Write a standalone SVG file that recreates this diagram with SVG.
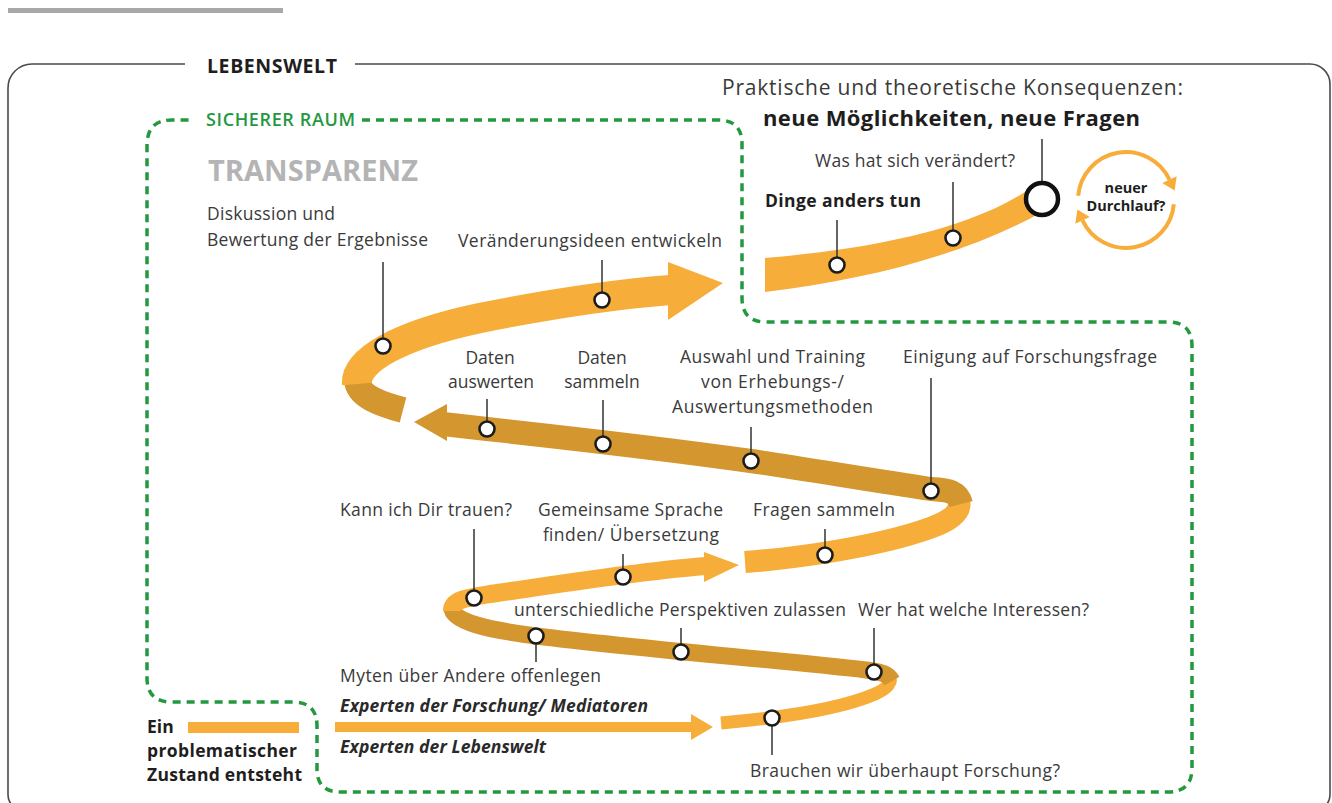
<svg xmlns="http://www.w3.org/2000/svg" width="1332" height="803" viewBox="0 0 1332 803" font-size="17.5">
<style>
text{font-family:"Open Sans","Liberation Sans",sans-serif;fill:#3a3a3a}
.b{font-weight:700;fill:#1e1e1e}
.bi{font-weight:700;font-style:italic;fill:#2a2a2a}
.c{text-anchor:middle}
.lead{stroke:#333;stroke-width:1.5;fill:none}
.dot{fill:#fff;stroke:#1c1c1c;stroke-width:2.6}
.lt{fill:none;stroke:#F6AD39;stroke-linecap:butt}
.dk{fill:none;stroke:#D4962F;stroke-linecap:butt}
.ltf{fill:#F6AD39}
.dkf{fill:#D4962F}
</style>
<rect x="8" y="8" width="275" height="5" fill="#a8a8a8"/>
<g id="lebenswelt">
<path d="M185 64 H32 A24 24 0 0 0 8 88 V795 A15 15 0 0 0 23 810 H1315 A15 15 0 0 0 1330 795 V84 A20 20 0 0 0 1310 64 H355" fill="none" stroke="#4a4a4a" stroke-width="1.6"/>
<text x="207" y="73" class="b" font-size="19.5" textLength="130">LEBENSWELT</text>
</g>
<g id="sicherer-raum">
<path d="M362 120 H718 Q742 120 742 144 V298 Q742 322 766 322 H1168 Q1192 322 1192 346 V768 Q1192 792 1168 792 H340 Q317 792 317 769 V726 Q317 702 293 702 H172 Q147 702 147 678 V145 Q147 120 172 120 H193" fill="none" stroke="#23983f" stroke-width="3.5" stroke-dasharray="8 6"/>
<text x="206" y="126" font-size="18" font-weight="600" style="fill:#23983f" textLength="149">SICHERER RAUM</text>
</g>
<text x="208" y="181" font-size="29" font-weight="700" style="fill:#b4b4b4" textLength="210">TRANSPARENZ</text>

<g id="ribbon">
<line x1="188" y1="727.5" x2="299" y2="727.5" class="lt" stroke-width="11"/>
<line x1="335" y1="727" x2="693" y2="727" class="lt" stroke-width="10"/>
<polygon points="691,714 713,727 691,740" class="ltf"/>
<path d="M721 723 C790 717 845 707 875 694 C888 688 893 682 889 676" class="lt" stroke-width="13"/>
<path d="M892 681 C887 672 878 672 866 670 C780 660 650 650 536 636 C490 630 452 622 452 608" class="dk" stroke-width="17"/>
<path d="M452 611 C452 600 465 598 490 594 C560 584 640 571 706 566" class="lt" stroke-width="18"/>
<polygon points="704,552 739,565 704,582" class="ltf"/>
<path d="M745 562 C800 558 880 546 930 528 C950 521 962 512 959 500" class="lt" stroke-width="22"/>
<path d="M961 504 C958 492 950 490 931 489 C870 480 800 468 751 461 C680 451 560 437 487 429 L443 424" class="dk" stroke-width="24"/>
<polygon points="447,404 414,422 447,441" class="dkf"/>
<path d="M403 410 C380 404 358 396 357 380" class="dk" stroke-width="26"/>
<path d="M357 384 C355 360 400 335 480 318 C560 302 620 294 670 290" class="lt" stroke-width="30"/>
<polygon points="668,262 723,283 668,320" class="ltf"/>
<path d="M765 258 C860 250 965 232 1028 190 L1042 212 C965 255 865 280 765 292 Z" class="ltf"/>
</g>

<g id="connectors">
<line x1="383" y1="262" x2="383" y2="339" class="lead"/>
<line x1="602" y1="260" x2="602" y2="293" class="lead"/>
<line x1="837" y1="220" x2="837" y2="258" class="lead"/>
<line x1="953" y1="182" x2="953" y2="231" class="lead"/>
<line x1="1042" y1="139" x2="1042" y2="183" class="lead"/>
<line x1="487" y1="399" x2="487" y2="422" class="lead"/>
<line x1="603" y1="400" x2="603" y2="437" class="lead"/>
<line x1="751" y1="427" x2="751" y2="454" class="lead"/>
<line x1="931" y1="378" x2="931" y2="484" class="lead"/>
<line x1="474" y1="529" x2="474" y2="591" class="lead"/>
<line x1="623" y1="554" x2="623" y2="570" class="lead"/>
<line x1="825" y1="529" x2="825" y2="548" class="lead"/>
<line x1="681" y1="628" x2="681" y2="645" class="lead"/>
<line x1="874" y1="628" x2="874" y2="665" class="lead"/>
<line x1="536" y1="643" x2="536" y2="662" class="lead"/>
<line x1="772" y1="725" x2="772" y2="755" class="lead"/>
</g>

<g id="n-start"><text x="147" y="733" class="b">Ein</text><text x="147" y="757" class="b" textLength="150">problematischer</text><text x="147" y="781" class="b" textLength="155">Zustand entsteht</text></g>
<g id="n-experten"><text x="340" y="712" class="bi" textLength="308">Experten der Forschung/ Mediatoren</text><text x="340" y="753" class="bi" textLength="206">Experten der Lebenswelt</text></g>
<g id="n-brauchen"><circle cx="772" cy="718" r="7.5" class="dot"/><text x="750" y="777" textLength="310">Brauchen wir überhaupt Forschung?</text></g>
<g id="n-wer"><circle cx="874" cy="672" r="7.5" class="dot"/><text x="858" y="616" textLength="231">Wer hat welche Interessen?</text></g>
<g id="n-perspektiven"><circle cx="681" cy="652" r="7.5" class="dot"/><text x="514" y="616" textLength="332">unterschiedliche Perspektiven zulassen</text></g>
<g id="n-myten"><circle cx="536" cy="636" r="7.5" class="dot"/><text x="340" y="682" textLength="261">Myten über Andere offenlegen</text></g>
<g id="n-trauen"><circle cx="474" cy="598" r="7.5" class="dot"/><text x="340" y="516" textLength="172">Kann ich Dir trauen?</text></g>
<g id="n-sprache"><circle cx="623" cy="577" r="7.5" class="dot"/><text x="538" y="516" textLength="185">Gemeinsame Sprache</text><text x="543" y="541" textLength="176">finden/ Übersetzung</text></g>
<g id="n-fragen"><circle cx="825" cy="555" r="7.5" class="dot"/><text x="753" y="516" textLength="142">Fragen sammeln</text></g>
<g id="n-einigung"><circle cx="931" cy="491" r="7.5" class="dot"/><text x="903" y="363" textLength="254">Einigung auf Forschungsfrage</text></g>
<g id="n-auswahl"><circle cx="751" cy="461" r="7.5" class="dot"/><text x="680" y="363" textLength="185">Auswahl und Training</text><text x="701" y="388" textLength="143">von Erhebungs-/</text><text x="672" y="413" textLength="201">Auswertungsmethoden</text></g>
<g id="n-sammeln"><circle cx="603" cy="444" r="7.5" class="dot"/><text x="602" y="364" class="c">Daten</text><text x="602" y="388" class="c">sammeln</text></g>
<g id="n-auswerten"><circle cx="487" cy="429" r="7.5" class="dot"/><text x="490" y="364" class="c">Daten</text><text x="491" y="388" class="c">auswerten</text></g>
<g id="n-diskussion"><circle cx="383" cy="346" r="7.5" class="dot"/><text x="207" y="220" textLength="128">Diskussion und</text><text x="207" y="246" textLength="221">Bewertung der Ergebnisse</text></g>
<g id="n-ideen"><circle cx="602" cy="300" r="7.5" class="dot"/><text x="458" y="247" textLength="264">Veränderungsideen entwickeln</text></g>
<g id="n-dinge"><circle cx="837" cy="265" r="7.5" class="dot"/><text x="765" y="207" class="b" textLength="156">Dinge anders tun</text></g>
<g id="n-was"><circle cx="953" cy="238" r="7.5" class="dot"/><text x="815" y="167" textLength="200">Was hat sich verändert?</text></g>
<g id="n-konsequenzen"><circle cx="1042" cy="199" r="16" fill="#fff" stroke="#111" stroke-width="4.5"/><text x="722" y="95" font-size="21" textLength="461">Praktische und theoretische Konsequenzen:</text><text x="763" y="126" class="b" font-size="22" textLength="377">neue Möglichkeiten, neue Fragen</text></g>
<g id="n-durchlauf">
<path d="M1078.2 195.8 A48 48 0 0 1 1169.5 179.7" fill="none" stroke="#F6AD39" stroke-width="4"/>
<polygon points="1176.7,176.3 1174.6,190.6 1162.3,183.1" class="ltf"/>
<path d="M1173.8 204.2 A48 48 0 0 1 1082.5 220.3" fill="none" stroke="#F6AD39" stroke-width="4"/>
<polygon points="1089.7,216.9 1077.4,209.4 1075.3,223.7" class="ltf"/>
<text x="1126" y="193" class="b c" font-size="14.5">neuer</text>
<text x="1126" y="211" class="b c" font-size="14.5">Durchlauf?</text>
</g>
</svg>
